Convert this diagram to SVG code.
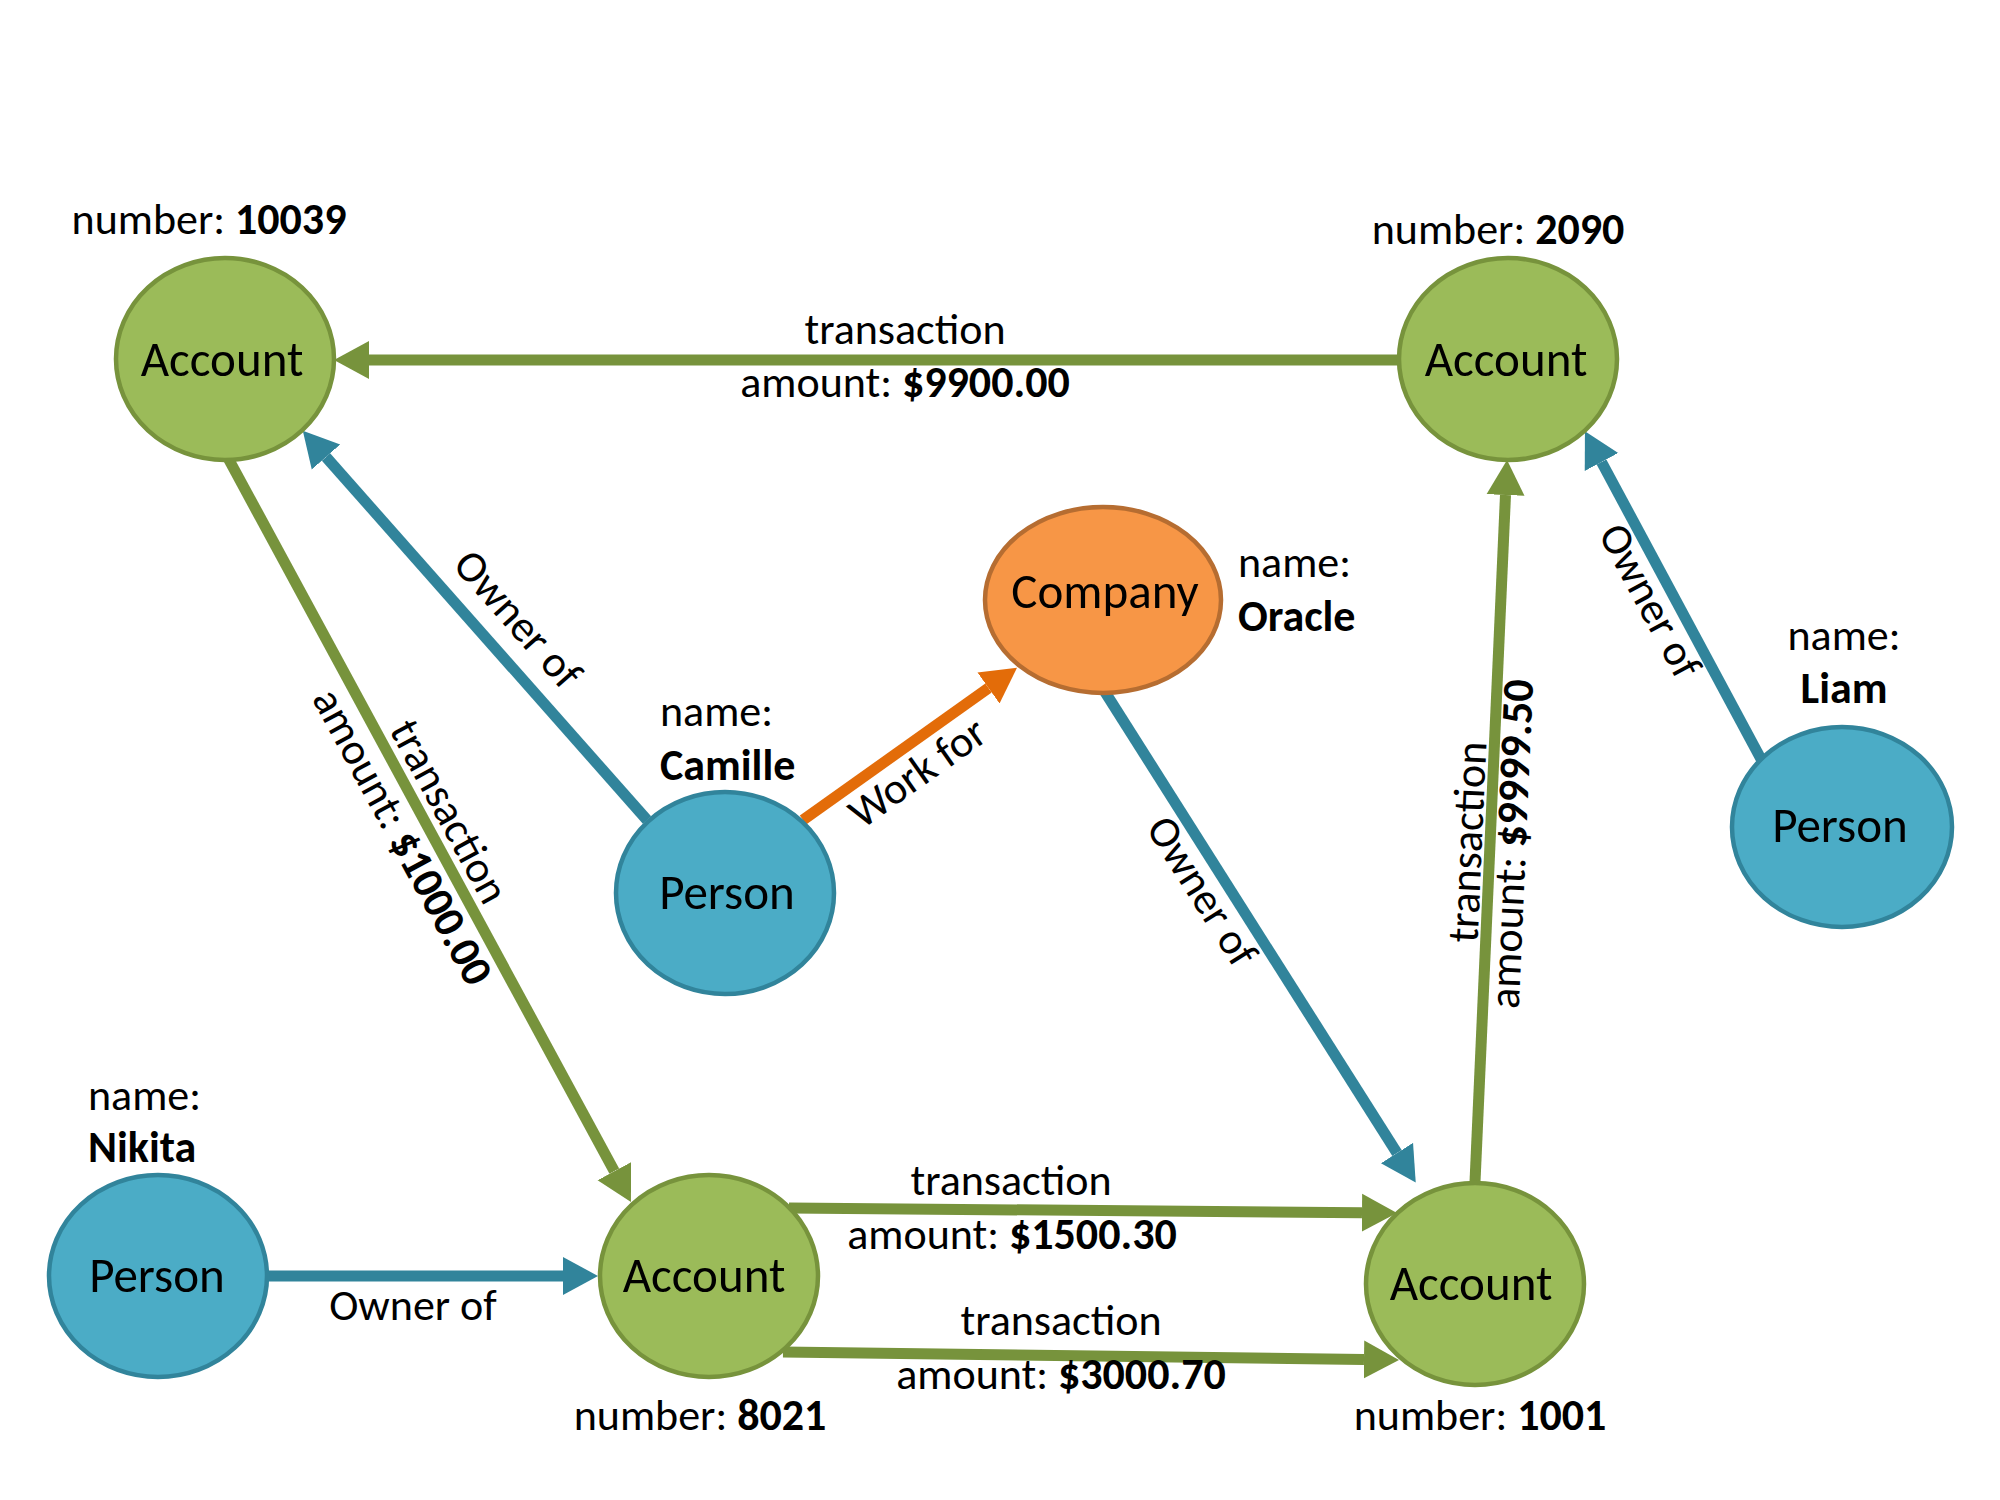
<svg xmlns="http://www.w3.org/2000/svg" width="2000" height="1500" viewBox="0 0 2000 1500">
<style>
text{font-family:Carlito,Lato,"Liberation Sans",sans-serif;fill:#000}
.nl{font-size:49px;text-anchor:middle}
.el{font-size:44px}
.m{text-anchor:middle}
.b{font-weight:bold}
.acc{fill:#9BBB59;stroke:#77933C;stroke-width:4.5}
.per{fill:#4BACC6;stroke:#31849B;stroke-width:4.5}
.com{fill:#F79646;stroke:#B66D31;stroke-width:4.5}
.g{stroke:#77933C;stroke-width:11;fill:none;marker-end:url(#ag)}
.bl{stroke:#31849B;stroke-width:11;fill:none;marker-end:url(#ab)}
.o{stroke:#E36C09;stroke-width:11;fill:none;marker-end:url(#ao)}
</style>
<defs>
<marker id="ag" viewBox="0 -20 36 40" refX="0" refY="0" markerWidth="36" markerHeight="40" markerUnits="userSpaceOnUse" orient="auto"><path d="M0,-19 L35,0 L0,19 Z" fill="#77933C"/></marker>
<marker id="ab" viewBox="0 -20 36 40" refX="0" refY="0" markerWidth="36" markerHeight="40" markerUnits="userSpaceOnUse" orient="auto"><path d="M0,-19 L35,0 L0,19 Z" fill="#31849B"/></marker>
<marker id="ao" viewBox="0 -20 36 40" refX="0" refY="0" markerWidth="36" markerHeight="40" markerUnits="userSpaceOnUse" orient="auto"><path d="M0,-19 L35,0 L0,19 Z" fill="#E36C09"/></marker>
</defs>
<rect width="2000" height="1500" fill="#fff"/>
<g id="connectors">
<line class="g" x1="1399" y1="360" x2="369" y2="360"/>
<line class="g" x1="228" y1="458" x2="614.3" y2="1171.2"/>
<line class="o" x1="803" y1="820" x2="988.5" y2="688"/>
<line class="bl" x1="1105" y1="692" x2="1397" y2="1153"/>
<line class="g" x1="1475" y1="1182" x2="1505.5" y2="495"/>
<line class="bl" x1="1761" y1="759" x2="1601.5" y2="462"/>
<line class="bl" x1="647" y1="820" x2="326" y2="457"/>
<line class="bl" x1="267" y1="1276" x2="563" y2="1276"/>
<line class="g" x1="789" y1="1208" x2="1362" y2="1212.7"/>
<line class="g" x1="783" y1="1352" x2="1364" y2="1359.5"/>
<g id="edge-labels">
<text class="el m" x="905" y="344">transaction</text>
<text class="el m" x="905" y="397">amount: <tspan class="b">$9900.00</tspan></text>
<g transform="translate(426,824) rotate(61.6)">
<text class="el m" x="0" y="-12">transaction</text>
<text class="el m" x="0" y="41">amount: <tspan class="b">$1000.00</tspan></text>
</g>
<g transform="translate(901.5,750) rotate(-35.4)"><text class="el m" x="0" y="42">Work for</text></g>
<g transform="translate(1223,878) rotate(57.7)"><text class="el m" x="0" y="39">Owner of</text></g>
<g transform="translate(1490,843) rotate(-87.5)">
<text class="el m" x="0" y="-8">transaction</text>
<text class="el m" x="0" y="36">amount: <tspan class="b">$9999.50</tspan></text>
</g>
<g transform="translate(1670,590) rotate(61.8)"><text class="el m" x="0" y="37">Owner of</text></g>
<g transform="translate(490.6,643.3) rotate(48.5)"><text class="el m" x="0" y="-22">Owner of</text></g>
<text class="el m" x="413" y="1320">Owner of</text>
<text class="el m" x="1011" y="1195">transaction</text>
<text class="el m" x="1012" y="1249">amount: <tspan class="b">$1500.30</tspan></text>
<text class="el m" x="1061" y="1335">transaction</text>
<text class="el m" x="1061" y="1389">amount: <tspan class="b">$3000.70</tspan></text>
</g>
</g>
<g id="account-10039">
<ellipse class="acc" cx="225" cy="359" rx="109" ry="101"/>
<text class="nl" x="222" y="376">Account</text>
<text class="el m" x="209" y="234">number: <tspan class="b">10039</tspan></text>
</g>
<g id="account-2090">
<ellipse class="acc" cx="1508" cy="359" rx="109" ry="101"/>
<text class="nl" x="1506" y="376">Account</text>
<text class="el m" x="1498" y="244">number: <tspan class="b">2090</tspan></text>
</g>
<g id="company-oracle">
<ellipse class="com" cx="1103" cy="600" rx="118" ry="93"/>
<text class="nl" x="1105" y="608">Company</text>
<text class="el" x="1238" y="577">name:</text>
<text class="el b" x="1238" y="631">Oracle</text>
</g>
<g id="person-camille">
<ellipse class="per" cx="725" cy="893" rx="109" ry="101"/>
<text class="nl" x="727" y="909">Person</text>
<text class="el" x="660" y="726">name:</text>
<text class="el b" x="660" y="780">Camille</text>
</g>
<g id="person-liam">
<ellipse class="per" cx="1842" cy="827" rx="110" ry="100"/>
<text class="nl" x="1840" y="842">Person</text>
<text class="el m" x="1844" y="650">name:</text>
<text class="el m b" x="1844" y="703">Liam</text>
</g>
<g id="person-nikita">
<ellipse class="per" cx="158" cy="1276" rx="109" ry="101"/>
<text class="nl" x="157" y="1292">Person</text>
<text class="el" x="88" y="1110">name:</text>
<text class="el b" x="88" y="1162">Nikita</text>
</g>
<g id="account-8021">
<ellipse class="acc" cx="709" cy="1276" rx="109" ry="101"/>
<text class="nl" x="704" y="1292">Account</text>
<text class="el m" x="700" y="1430">number: <tspan class="b">8021</tspan></text>
</g>
<g id="account-1001">
<ellipse class="acc" cx="1475" cy="1284" rx="109" ry="101"/>
<text class="nl" x="1471" y="1300">Account</text>
<text class="el m" x="1480" y="1430">number: <tspan class="b">1001</tspan></text>
</g>
</svg>
